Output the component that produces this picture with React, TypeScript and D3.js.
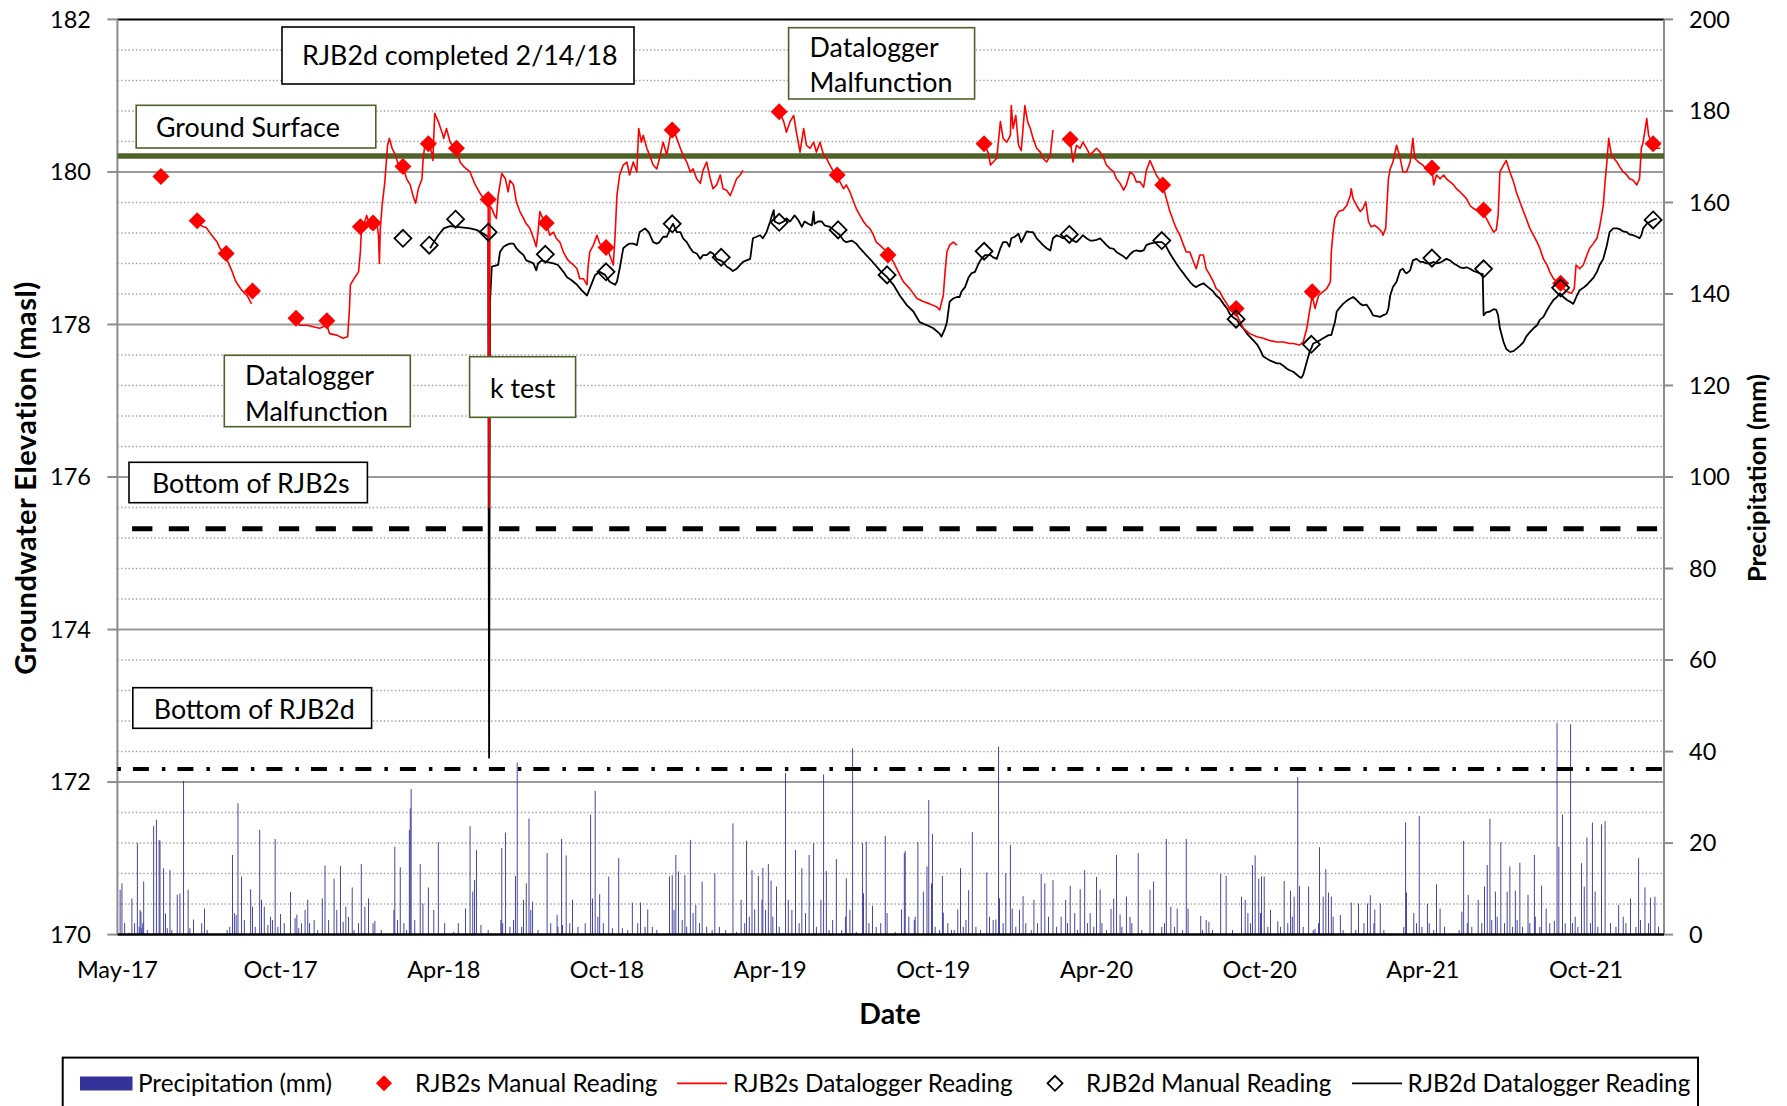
import React from "react";
import * as d3 from "d3";

// ---------------- DATA ----------------
const START = "2017-05-01";
const END = "2022-01-01";

const LEFT_TICKS = [170, 172, 174, 176, 178, 180, 182];
const RIGHT_TICKS = [0, 20, 40, 60, 80, 100, 120, 140, 160, 180, 200];
const X_TICK_DAYS = [0, 180, 360, 540, 720, 900, 1080, 1260, 1440, 1620];

const GROUND_SURFACE = 180.21;
const BOTTOM_RJB2S = 175.32;
const BOTTOM_RJB2D = 172.17;

// manual readings (date, masl)
const RJB2S_MANUAL: [string, number][] = [
  ["2017-06-18", 179.94], ["2017-07-28", 179.36], ["2017-08-29", 178.93], ["2017-09-27", 178.44],
  ["2017-11-14", 178.08], ["2017-12-18", 178.05], ["2018-01-24", 179.28], ["2018-02-07", 179.33],
  ["2018-03-12", 180.07], ["2018-04-09", 180.37], ["2018-05-10", 180.31], ["2018-06-14", 179.64],
  ["2018-08-17", 179.33], ["2018-10-22", 179.01], ["2019-01-03", 180.55], ["2019-05-01", 180.79],
  ["2019-07-04", 179.96], ["2019-08-29", 178.91], ["2019-12-13", 180.37], ["2020-03-17", 180.43],
  ["2020-06-27", 179.83], ["2020-09-16", 178.21], ["2020-12-09", 178.43], ["2021-04-20", 180.05],
  ["2021-06-16", 179.5], ["2021-09-09", 178.54], ["2021-12-20", 180.37],
];

const RJB2D_MANUAL: [string, number][] = [
  ["2018-03-12", 179.13], ["2018-04-10", 179.04], ["2018-05-09", 179.38], ["2018-06-14", 179.21],
  ["2018-08-16", 178.92], ["2018-10-22", 178.69], ["2019-01-03", 179.32], ["2019-02-26", 178.88],
  ["2019-05-01", 179.34], ["2019-07-05", 179.24], ["2019-08-28", 178.65], ["2019-12-13", 178.96],
  ["2020-03-16", 179.18], ["2020-06-26", 179.1], ["2020-09-16", 178.07], ["2020-12-08", 177.74],
  ["2021-04-20", 178.87], ["2021-06-16", 178.73], ["2021-09-09", 178.48], ["2021-12-20", 179.37],
];

// datalogger records: [days since START, masl]
const RJB2S_LOGGER_1: [number, number][] = [
  [89, 179.32], [95, 179.28], [98, 179.27], [104, 179.17], [110, 179.08], [113, 179.0], [119, 178.91],
  [122, 178.82], [126, 178.71], [130, 178.58], [133, 178.52], [137, 178.45], [143, 178.38], [148, 178.27],
];
const RJB2S_LOGGER_2: [number, number][] = [
  [196, 178.09], [201, 177.99], [209, 177.99], [216, 177.97], [223, 177.95], [231, 177.99], [234, 177.88],
  [242, 177.86], [249, 177.82], [254, 177.84], [256, 178.21], [257, 178.52], [262, 178.62], [266, 178.69],
  [268, 178.95], [269, 179.21], [271, 179.28], [275, 179.43], [279, 179.26], [282, 179.37], [286, 179.35],
  [288, 179.17], [289, 178.8], [290, 179.26], [292, 179.56], [295, 179.87], [298, 180.35], [300, 180.44],
  [303, 180.31], [306, 180.24], [310, 180.09], [315, 180.07], [319, 179.91], [323, 179.83], [326, 179.69],
  [329, 179.59], [332, 179.78], [336, 179.91], [337, 180.13], [339, 180.35], [343, 180.39], [347, 180.24],
  [348, 180.15], [350, 180.77], [354, 180.66], [358, 180.52], [360, 180.44], [363, 180.57], [367, 180.39],
  [374, 180.28], [378, 180.13], [382, 180.07], [389, 180.0], [394, 179.85], [400, 179.72], [405, 179.63],
  [409, 179.56], [410, 175.6], [411, 179.55], [413, 179.52], [416, 179.43], [418, 179.39], [420, 179.69],
  [424, 179.98], [428, 179.91], [431, 179.74], [433, 179.89], [437, 179.83], [440, 179.61], [444, 179.48],
  [448, 179.39], [451, 179.32], [455, 179.26], [459, 179.13], [462, 179.02], [464, 179.21], [466, 179.48],
  [470, 179.37], [473, 179.32], [477, 179.17], [481, 179.21], [484, 179.13], [488, 179.08], [492, 178.95],
  [496, 178.86], [499, 178.82], [503, 178.78], [507, 178.73], [510, 178.6], [514, 178.6], [518, 178.52],
  [519, 178.73], [521, 178.95], [525, 179.04], [529, 179.17], [532, 179.06], [536, 179.04], [540, 179.0],
  [543, 178.91], [547, 178.78], [549, 179.17], [551, 179.69], [554, 179.96], [558, 180.09], [562, 180.13],
  [565, 179.96], [569, 180.13], [573, 180.0], [575, 180.57], [578, 180.39], [580, 180.48], [584, 180.31],
  [587, 180.22], [591, 180.09], [595, 180.04], [598, 180.18], [602, 180.39], [606, 180.22], [610, 180.48],
  [613, 180.57], [617, 180.44], [621, 180.31], [624, 180.22], [628, 180.13], [632, 180.0], [635, 180.04],
  [639, 179.91], [643, 179.85], [646, 180.02], [650, 180.13], [654, 179.91], [657, 179.78], [661, 179.83],
  [665, 179.96], [668, 179.78], [672, 179.76], [676, 179.69], [679, 179.78], [683, 179.91], [687, 179.96],
  [690, 180.02],
];
const RJB2S_LOGGER_3: [number, number][] = [
  [730, 180.79], [735, 180.66], [738, 180.52], [742, 180.66], [746, 180.74], [749, 180.52], [753, 180.26],
  [757, 180.57], [760, 180.35], [764, 180.31], [768, 180.39], [771, 180.26], [775, 180.39], [779, 180.22],
  [782, 180.18], [786, 180.09], [790, 180.0], [793, 179.96], [797, 179.87], [801, 179.78], [804, 179.83],
  [808, 179.74], [812, 179.61], [815, 179.52], [819, 179.43], [823, 179.35], [826, 179.3], [830, 179.26],
  [834, 179.17], [837, 179.08], [841, 179.04], [849, 178.95], [856, 178.82], [863, 178.65], [867, 178.56],
  [874, 178.47], [882, 178.34], [889, 178.3], [896, 178.27], [904, 178.23], [907, 178.19], [911, 178.38],
  [913, 178.69], [915, 178.95], [918, 179.04], [922, 179.08], [926, 179.04],
];
const RJB2S_LOGGER_4: [number, number][] = [
  [956, 180.37], [961, 180.24], [963, 180.09], [966, 180.13], [970, 180.18], [974, 180.66], [977, 180.44],
  [981, 180.39], [985, 180.48], [986, 180.87], [988, 180.57], [991, 180.74], [994, 180.35], [997, 180.28],
  [1001, 180.87], [1004, 180.66], [1007, 180.57], [1010, 180.44], [1014, 180.31], [1018, 180.26],
  [1021, 180.18], [1025, 180.13], [1029, 180.22], [1032, 180.55],
];
const RJB2S_LOGGER_5: [number, number][] = [
  [1051, 180.43], [1054, 180.13], [1058, 180.35], [1062, 180.31], [1065, 180.39], [1069, 180.31],
  [1073, 180.22], [1076, 180.26], [1080, 180.31], [1084, 180.26], [1088, 180.18], [1091, 180.09],
  [1095, 180.04], [1099, 180.0], [1102, 179.91], [1106, 179.85], [1110, 179.76], [1113, 179.83],
  [1117, 180.0], [1121, 179.96], [1124, 179.87], [1128, 179.87], [1132, 179.8], [1135, 180.02],
  [1139, 180.15], [1143, 180.04], [1146, 179.96], [1153, 179.83], [1157, 179.65], [1161, 179.48],
  [1165, 179.35], [1168, 179.26], [1172, 179.17], [1176, 179.04], [1179, 178.95], [1183, 178.95],
  [1187, 178.82], [1190, 178.73], [1194, 178.91], [1198, 178.91], [1201, 178.73], [1205, 178.65],
  [1209, 178.56], [1212, 178.47], [1216, 178.43], [1220, 178.34], [1227, 178.21], [1235, 178.12],
  [1242, 177.95], [1249, 177.88], [1257, 177.84], [1264, 177.82], [1271, 177.79], [1279, 177.77],
  [1286, 177.77], [1293, 177.75], [1297, 177.75], [1304, 177.73], [1308, 177.77], [1312, 177.95],
  [1315, 178.17], [1318, 178.38], [1321, 178.21], [1325, 178.38], [1330, 178.43], [1334, 178.47],
  [1338, 178.56], [1339, 178.95], [1341, 179.21], [1343, 179.39], [1347, 179.48], [1352, 179.5],
  [1356, 179.56], [1360, 179.69], [1361, 179.78], [1363, 179.65], [1367, 179.56], [1371, 179.48],
  [1374, 179.52], [1377, 179.61], [1380, 179.35], [1383, 179.28], [1387, 179.3], [1391, 179.26],
  [1395, 179.21], [1396, 179.17], [1399, 179.26], [1402, 179.91], [1404, 180.04], [1407, 180.13],
  [1411, 180.35], [1415, 180.18], [1418, 180.0], [1422, 180.0], [1426, 180.13], [1429, 180.44],
  [1431, 180.18], [1435, 180.13], [1440, 180.09], [1446, 180.0], [1450, 180.05], [1452, 179.83],
  [1455, 179.96], [1459, 179.91], [1463, 179.96], [1466, 179.91], [1470, 179.87], [1474, 179.83],
  [1477, 179.78], [1481, 179.74], [1485, 179.69], [1488, 179.65], [1492, 179.56], [1496, 179.52],
  [1499, 179.5], [1503, 179.48], [1507, 179.45], [1510, 179.39], [1514, 179.3], [1518, 179.21],
  [1521, 179.24], [1523, 179.43], [1525, 180.0], [1529, 180.09], [1532, 180.15], [1536, 180.0],
  [1540, 179.87], [1543, 179.74], [1547, 179.61], [1551, 179.48], [1554, 179.39], [1558, 179.26],
  [1562, 179.17], [1566, 179.08], [1569, 179.0], [1573, 178.86], [1577, 178.78], [1580, 178.69],
  [1584, 178.6], [1588, 178.56], [1592, 178.54], [1595, 178.47], [1599, 178.43], [1604, 178.41],
  [1607, 178.47], [1609, 178.78], [1613, 178.73], [1617, 178.78], [1621, 178.91], [1624, 179.0],
  [1628, 179.06], [1632, 179.13], [1635, 179.28], [1639, 179.56], [1641, 179.87], [1643, 180.13],
  [1645, 180.44], [1648, 180.22], [1654, 180.13], [1657, 180.07], [1661, 180.0], [1665, 179.96],
  [1668, 179.91], [1672, 179.89], [1676, 179.83], [1679, 179.91], [1681, 180.31], [1683, 180.39],
  [1687, 180.7], [1689, 180.48], [1692, 180.39], [1694, 180.37], [1698, 180.31], [1702, 180.31],
];
const RJB2S_LOGGER_SEGMENTS = [RJB2S_LOGGER_1, RJB2S_LOGGER_2, RJB2S_LOGGER_3, RJB2S_LOGGER_4, RJB2S_LOGGER_5];

const RJB2D_LOGGER: [number, number][] = [
  [345, 179.0], [348, 179.06], [354, 179.17], [360, 179.26], [367, 179.29], [374, 179.28], [382, 179.27],
  [389, 179.26], [396, 179.24], [404, 179.19], [409, 179.15], [410, 172.32], [411, 178.3], [413, 178.76],
  [420, 178.78], [422, 178.95], [426, 179.02], [429, 179.04], [433, 179.06], [437, 179.06], [440, 179.0],
  [444, 178.95], [448, 178.91], [451, 178.84], [455, 178.82], [459, 178.8], [462, 178.71], [464, 178.8],
  [468, 178.84], [473, 178.82], [481, 178.8], [486, 178.78], [492, 178.69], [496, 178.62], [501, 178.58],
  [507, 178.52], [512, 178.45], [518, 178.38], [521, 178.47], [527, 178.65], [532, 178.69], [538, 178.65],
  [543, 178.56], [549, 178.52], [551, 178.56], [554, 178.73], [558, 179.0], [562, 179.04], [565, 179.06],
  [569, 179.06], [573, 179.04], [576, 179.21], [582, 179.26], [586, 179.21], [591, 179.08], [595, 179.06],
  [598, 179.08], [602, 179.15], [606, 179.15], [610, 179.26], [613, 179.32], [617, 179.21], [621, 179.21],
  [624, 179.13], [628, 179.08], [632, 179.0], [635, 178.95], [639, 178.93], [643, 178.86], [646, 178.91],
  [650, 178.91], [654, 178.95], [657, 178.93], [661, 178.86], [665, 178.84], [668, 178.82], [672, 178.76],
  [676, 178.73], [679, 178.7], [683, 178.73], [687, 178.78], [690, 178.82], [694, 178.84], [698, 178.86],
  [701, 179.13], [705, 179.15], [709, 179.17], [712, 179.13], [716, 179.21], [720, 179.35], [722, 179.43],
  [724, 179.5], [725, 179.35], [730, 179.32], [735, 179.35], [738, 179.39], [742, 179.35], [747, 179.43],
  [751, 179.37], [755, 179.28], [758, 179.35], [762, 179.32], [766, 179.3], [768, 179.48], [769, 179.32],
  [773, 179.35], [777, 179.35], [780, 179.3], [786, 179.28], [793, 179.21], [797, 179.17], [801, 179.1],
  [804, 179.08], [810, 179.1], [815, 179.06], [819, 179.0], [823, 178.95], [826, 178.91], [830, 178.86],
  [836, 178.78], [841, 178.71], [849, 178.62], [856, 178.52], [863, 178.38], [871, 178.25], [878, 178.17],
  [885, 178.03], [893, 177.99], [900, 177.95], [907, 177.88], [909, 177.84], [913, 177.95], [915, 178.03],
  [918, 178.3], [922, 178.34], [926, 178.36], [929, 178.36], [931, 178.43], [935, 178.49], [939, 178.62],
  [942, 178.67], [946, 178.69], [950, 178.8], [953, 178.86], [957, 178.91], [963, 178.91], [966, 178.88],
  [970, 178.86], [974, 179.0], [977, 179.08], [981, 179.08], [984, 179.02], [986, 179.13], [990, 179.15],
  [994, 179.19], [997, 179.08], [1001, 179.17], [1003, 179.22], [1007, 179.21], [1010, 179.21],
  [1014, 179.13], [1018, 179.08], [1021, 179.04], [1025, 179.0], [1029, 178.97], [1032, 179.13],
  [1036, 179.17], [1040, 179.15], [1043, 179.13], [1047, 179.17], [1051, 179.13], [1054, 179.1],
  [1058, 179.08], [1062, 179.13], [1065, 179.17], [1069, 179.13], [1073, 179.1], [1076, 179.1],
  [1080, 179.11], [1084, 179.13], [1088, 179.08], [1091, 179.04], [1095, 179.0], [1099, 178.99],
  [1102, 178.95], [1106, 178.92], [1110, 178.89], [1113, 178.86], [1117, 178.92], [1121, 178.96],
  [1124, 178.97], [1128, 178.96], [1132, 178.97], [1135, 179.04], [1139, 179.06], [1143, 179.07],
  [1146, 179.08], [1152, 179.08], [1156, 179.04], [1161, 178.93], [1168, 178.8], [1172, 178.73],
  [1176, 178.67], [1179, 178.62], [1183, 178.56], [1187, 178.51], [1190, 178.49], [1194, 178.52],
  [1198, 178.54], [1201, 178.51], [1205, 178.47], [1209, 178.43], [1212, 178.38], [1216, 178.34],
  [1220, 178.27], [1224, 178.21], [1227, 178.14], [1231, 178.09], [1235, 178.06], [1238, 178.0],
  [1242, 177.95], [1246, 177.88], [1249, 177.84], [1253, 177.79], [1257, 177.74], [1260, 177.68],
  [1264, 177.58], [1268, 177.55], [1271, 177.53], [1275, 177.51], [1279, 177.49], [1282, 177.49],
  [1286, 177.46], [1290, 177.42], [1293, 177.4], [1297, 177.38], [1301, 177.34], [1304, 177.31],
  [1306, 177.3], [1308, 177.34], [1312, 177.51], [1315, 177.64], [1317, 177.69], [1319, 177.75],
  [1323, 177.77], [1326, 177.79], [1330, 177.82], [1336, 177.86], [1339, 177.86], [1341, 177.95],
  [1343, 178.03], [1345, 178.17], [1349, 178.23], [1352, 178.27], [1356, 178.31], [1360, 178.34],
  [1363, 178.36], [1367, 178.32], [1371, 178.27], [1374, 178.25], [1378, 178.26], [1382, 178.19],
  [1385, 178.12], [1389, 178.11], [1393, 178.1], [1396, 178.12], [1400, 178.14], [1402, 178.21],
  [1404, 178.38], [1407, 178.49], [1411, 178.56], [1415, 178.71], [1418, 178.73], [1420, 178.69],
  [1422, 178.67], [1426, 178.71], [1429, 178.84], [1433, 178.86], [1437, 178.82], [1440, 178.82],
  [1444, 178.8], [1448, 178.8], [1452, 178.82], [1455, 178.8], [1459, 178.81], [1463, 178.84],
  [1466, 178.86], [1470, 178.84], [1474, 178.8], [1477, 178.78], [1481, 178.75], [1485, 178.74],
  [1488, 178.75], [1492, 178.73], [1496, 178.7], [1499, 178.69], [1503, 178.67], [1506, 178.66],
  [1507, 178.12], [1510, 178.16], [1514, 178.17], [1518, 178.2], [1521, 178.19], [1523, 178.12],
  [1525, 177.95], [1529, 177.77], [1532, 177.68], [1536, 177.64], [1540, 177.65], [1543, 177.68],
  [1547, 177.72], [1551, 177.77], [1554, 177.84], [1558, 177.9], [1562, 177.95], [1566, 177.99],
  [1569, 178.06], [1573, 178.1], [1577, 178.19], [1580, 178.25], [1584, 178.32], [1588, 178.36],
  [1591, 178.41], [1595, 178.36], [1599, 178.32], [1602, 178.3], [1606, 178.27], [1610, 178.38],
  [1613, 178.45], [1617, 178.48], [1621, 178.52], [1624, 178.56], [1628, 178.61], [1632, 178.69],
  [1635, 178.78], [1639, 178.86], [1643, 179.04], [1646, 179.21], [1650, 179.26], [1654, 179.26],
  [1657, 179.25], [1661, 179.22], [1665, 179.21], [1668, 179.18], [1672, 179.17], [1676, 179.15],
  [1679, 179.13], [1681, 179.17], [1683, 179.26], [1687, 179.32], [1691, 179.35], [1694, 179.37],
  [1698, 179.39],
];

// daily precipitation: [days since START, mm]
const PRECIP: [number, number][] = [
  [3, 9.8], [5, 11.2], [8, 2.5], [13, 0.4], [16, 7.9], [19, 2.5], [22, 20.0], [24, 1.7], [25, 5.4], [26, 5.0],
  [27, 1.4], [28, 2.5], [29, 11.6], [33, 1.0], [40, 23.7], [43, 25.1], [46, 20.7], [47, 20.5], [51, 14.5],
  [53, 4.6], [55, 1.4], [58, 14.1], [60, 1.0], [66, 8.7], [69, 9.0], [73, 33.6], [78, 9.8], [80, 1.4],
  [84, 3.3], [93, 2.5], [96, 5.7], [99, 1.0], [121, 1.0], [124, 1.7], [127, 17.4], [129, 4.7], [131, 4.3],
  [133, 28.7], [137, 12.7], [140, 3.2], [147, 9.9], [149, 6.1], [152, 1.7], [157, 22.9], [159, 7.6],
  [162, 6.1], [166, 2.1], [169, 3.9], [171, 3.2], [174, 20.9], [177, 1.7], [180, 4.5], [184, 2.5],
  [191, 9.3], [196, 3.6], [198, 4.4], [200, 1.4], [203, 2.5], [207, 5.4], [210, 7.6], [212, 2.5],
  [217, 3.2], [221, 1.0], [226, 7.9], [229, 15.1], [233, 3.2], [239, 12.2], [242, 5.4], [246, 15.0],
  [249, 2.8], [252, 6.1], [255, 3.9], [259, 10.3], [261, 1.0], [266, 2.5], [269, 15.4], [273, 6.1],
  [277, 7.9], [282, 2.5], [284, 3.0], [291, 1.0], [305, 5.4], [306, 19.2], [309, 3.2], [312, 14.7],
  [316, 2.5], [319, 1.0], [322, 22.9], [323, 27.6], [324, 31.8], [328, 3.2], [334, 15.4], [337, 6.8],
  [343, 10.3], [349, 5.4], [354, 20.2], [361, 2.5], [371, 0.6], [376, 2.5], [384, 5.7], [389, 23.7],
  [392, 9.4], [394, 11.9], [396, 18.5], [401, 2.1], [409, 1.0], [423, 3.2], [424, 18.9], [425, 2.5],
  [428, 22.3], [433, 1.7], [437, 3.2], [439, 12.8], [441, 37.6], [446, 1.7], [448, 7.6], [451, 11.2],
  [454, 25.4], [456, 5.4], [458, 7.2], [464, 1.0], [474, 17.8], [478, 2.5], [485, 4.3], [486, 1.7],
  [490, 20.9], [491, 2.1], [495, 17.3], [499, 2.5], [502, 7.6], [508, 1.7], [516, 2.5], [522, 26.2],
  [524, 7.9], [527, 31.4], [530, 3.9], [532, 8.8], [536, 2.5], [542, 12.7], [546, 1.4], [553, 16.7],
  [557, 1.4], [563, 1.0], [568, 7.0], [574, 2.5], [577, 7.0], [582, 1.7], [585, 5.5], [590, 1.7],
  [595, 1.0], [606, 0.3], [609, 12.7], [612, 13.0], [614, 5.4], [616, 17.4], [619, 13.8], [623, 3.2],
  [626, 13.0], [628, 1.7], [632, 20.7], [635, 4.7], [638, 6.5], [642, 2.5], [645, 11.6], [650, 1.7],
  [656, 1.0], [659, 13.4], [664, 1.7], [671, 1.0], [679, 24.3], [683, 0.6], [688, 7.6], [692, 2.5],
  [694, 20.5], [697, 3.9], [700, 14.1], [703, 5.5], [707, 12.8], [711, 7.6], [712, 14.6], [715, 5.4],
  [718, 15.4], [721, 11.8], [723, 3.9], [727, 10.5], [730, 1.7], [734, 0.3], [737, 35.3], [740, 7.6],
  [744, 5.4], [748, 18.5], [752, 2.5], [755, 14.5], [759, 4.7], [763, 17.4], [768, 20.0], [771, 1.7],
  [776, 7.6], [779, 35.0], [782, 13.9], [785, 1.0], [789, 3.2], [793, 16.5], [799, 1.0], [803, 3.9],
  [804, 12.3], [808, 5.4], [811, 40.7], [815, 0.6], [822, 20.0], [823, 9.0], [826, 20.3], [829, 2.5],
  [833, 6.3], [837, 1.7], [842, 2.5], [847, 21.6], [849, 4.7], [858, 0.6], [865, 5.5], [868, 17.8],
  [869, 18.3], [873, 3.9], [879, 3.2], [880, 3.9], [883, 20.2], [889, 9.4], [893, 14.9], [895, 29.4],
  [898, 11.2], [899, 22.0], [902, 1.7], [907, 1.0], [910, 12.8], [911, 4.8], [916, 2.5], [920, 1.0],
  [923, 1.0], [927, 5.5], [930, 14.5], [933, 1.7], [936, 3.2], [939, 9.7], [943, 22.4], [947, 1.7],
  [952, 1.0], [959, 13.6], [962, 3.9], [966, 3.2], [969, 3.3], [972, 41.1], [973, 7.9], [977, 2.5],
  [980, 13.4], [985, 19.6], [987, 5.7], [991, 1.7], [995, 5.4], [999, 8.4], [1002, 2.5], [1008, 1.0],
  [1011, 7.6], [1015, 2.5], [1019, 13.3], [1023, 11.2], [1027, 3.9], [1032, 11.9], [1036, 1.7],
  [1041, 3.9], [1046, 7.6], [1048, 2.5], [1051, 10.7], [1056, 4.7], [1059, 1.0], [1062, 9.9],
  [1067, 14.1], [1070, 2.5], [1073, 4.7], [1077, 1.7], [1080, 12.6], [1084, 9.8], [1086, 2.5],
  [1091, 1.0], [1096, 5.6], [1099, 7.9], [1102, 17.4], [1106, 4.4], [1108, 1.7], [1113, 8.3],
  [1117, 3.9], [1119, 2.5], [1126, 17.8], [1130, 1.0], [1139, 9.8], [1143, 11.6], [1152, 1.7],
  [1155, 2.5], [1157, 20.9], [1162, 6.1], [1166, 1.7], [1169, 5.7], [1175, 1.0], [1179, 20.9],
  [1181, 5.7], [1195, 4.1], [1197, 1.0], [1201, 3.2], [1204, 2.8], [1208, 1.0], [1217, 13.3],
  [1223, 12.8], [1230, 1.0], [1240, 8.3], [1244, 7.6], [1247, 4.7], [1250, 2.5], [1252, 15.2],
  [1255, 17.3], [1259, 12.2], [1261, 4.7], [1262, 12.7], [1265, 12.7], [1269, 1.7], [1272, 5.4],
  [1280, 2.9], [1283, 1.7], [1287, 11.7], [1291, 2.5], [1294, 9.6], [1296, 3.9], [1298, 8.3],
  [1302, 34.4], [1304, 10.6], [1308, 1.7], [1314, 10.5], [1319, 1.0], [1321, 1.3], [1325, 2.5],
  [1326, 19.1], [1330, 8.3], [1333, 14.3], [1336, 9.2], [1339, 8.3], [1341, 3.9], [1349, 4.3],
  [1352, 1.0], [1361, 7.0], [1366, 1.0], [1369, 6.8], [1375, 2.5], [1379, 6.8], [1382, 8.6],
  [1386, 2.5], [1387, 5.5], [1393, 6.8], [1397, 1.0], [1419, 1.7], [1421, 24.5], [1422, 9.2],
  [1430, 4.7], [1433, 2.5], [1436, 25.9], [1439, 1.7], [1445, 6.7], [1447, 2.5], [1452, 1.0],
  [1455, 11.0], [1459, 5.7], [1464, 1.7], [1480, 1.0], [1483, 5.0], [1485, 20.5], [1489, 2.5],
  [1490, 8.7], [1494, 1.7], [1501, 7.6], [1505, 2.5], [1508, 10.5], [1511, 15.2], [1514, 25.3],
  [1516, 3.2], [1520, 9.4], [1522, 3.9], [1526, 20.2], [1530, 2.5], [1533, 9.4], [1536, 14.9],
  [1539, 1.7], [1542, 9.6], [1544, 3.2], [1547, 15.7], [1550, 1.7], [1556, 8.7], [1558, 2.5],
  [1563, 17.4], [1564, 3.9], [1569, 1.7], [1571, 10.7], [1576, 5.7], [1580, 2.5], [1585, 3.0],
  [1588, 46.3], [1590, 19.2], [1594, 26.2], [1597, 2.5], [1603, 46.0], [1605, 2.5], [1608, 3.9],
  [1611, 1.7], [1615, 15.6], [1618, 10.5], [1621, 21.2], [1625, 2.5], [1627, 24.5], [1630, 9.4],
  [1633, 1.7], [1637, 24.1], [1641, 24.8], [1647, 2.5], [1653, 1.7], [1656, 6.5], [1661, 3.9],
  [1664, 2.5], [1669, 7.9], [1675, 1.7], [1678, 16.7], [1680, 3.2], [1685, 10.3], [1689, 2.5],
  [1691, 8.1], [1696, 8.3], [1700, 1.7],
];

const LEGEND_LABELS = [
  "Precipitation (mm)",
  "RJB2s Manual Reading",
  "RJB2s Datalogger Reading",
  "RJB2d Manual Reading",
  "RJB2d Datalogger Reading",
];

// ---------------- LAYOUT ----------------
const W = 1787;
const H = 1106;
const X0 = 117.4;
const X1 = 1664;
const Y0 = 19.4;
const Y1 = 934.6;
const FONT = "Lato, 'Liberation Sans', sans-serif";
const FS_TICK = 23.5;
const FS_LEGEND = 24.3;
const FS_NOTE = 26.8;
const OLIVE = "#4f6228";
const PRECIP_COLOR = "#333399";

const ANNOTATIONS = [
  { x: 282, y: 27, w: 352, h: 57, stroke: "#000", lines: ["RJB2d completed 2/14/18"], tx: 302, anchor: "start", ty: [55.5] },
  { x: 788.6, y: 27.7, w: 186, h: 71.3, stroke: OLIVE, lines: ["Datalogger", "Malfunction"], tx: 809.6, anchor: "start", ty: [47.2, 82.8] },
  { x: 136.2, y: 105.3, w: 239.6, h: 42.7, stroke: OLIVE, lines: ["Ground Surface"], tx: 156, anchor: "start", ty: [127.5] },
  { x: 224.3, y: 355.3, w: 186, h: 71.4, stroke: OLIVE, lines: ["Datalogger", "Malfunction"], tx: 245, anchor: "start", ty: [375.3, 411.3] },
  { x: 469.6, y: 356.7, w: 106, h: 60.6, stroke: OLIVE, lines: ["k test"], tx: 522.6, anchor: "middle", ty: [388.8] },
  { x: 129, y: 462.3, w: 238.4, h: 40.4, stroke: "#000", lines: ["Bottom of RJB2s"], tx: 152, anchor: "start", ty: [483.8] },
  { x: 132.8, y: 687.7, w: 238.8, h: 40.6, stroke: "#000", lines: ["Bottom of RJB2d"], tx: 153.8, anchor: "start", ty: [709.2] },
];

const parseDate = d3.utcParse("%Y-%m-%d");
const startDate = parseDate(START) as Date;
const endDate = parseDate(END) as Date;
const dayToDate = (d: number) => d3.utcDay.offset(startDate, d);

const diamond = (r: number) => `M0,${-r}L${r},0L0,${r}L${-r},0Z`;

export default function App() {
  const x = d3.scaleUtc().domain([startDate, endDate]).range([X0, X1]);
  const y = d3.scaleLinear().domain([170, 182]).range([Y1, Y0]);
  const yR = d3.scaleLinear().domain([0, 200]).range([Y1, Y0]);
  const fmt = d3.utcFormat("%b-%y");

  const line = d3
    .line<[number, number]>()
    .x((d) => x(dayToDate(d[0])))
    .y((d) => y(d[1]));

  const minor = d3.range(0, 31).filter((i) => i % 5 !== 0).map((i) => 170 + i * 0.4);
  const dayW = x(dayToDate(1)) - x(dayToDate(0));

  return (
    <div style={{ position: "absolute", left: 0, top: 0 }}>
      <svg width={W} height={H} style={{ display: "block", background: "#fff" }} fontFamily={FONT}>
        <rect x={0} y={0} width={W} height={H} fill="#fff" />
        {/* minor gridlines */}
        {minor.map((v) => (
          <line key={"mn" + v} x1={X0} x2={X1} y1={y(v)} y2={y(v)} stroke="#a6a6a6" strokeWidth={1.5} strokeDasharray="1.5,2.2" />
        ))}
        {/* major gridlines */}
        {LEFT_TICKS.slice(1, -1).map((v) => (
          <line key={"mj" + v} x1={X0} x2={X1} y1={y(v)} y2={y(v)} stroke="#9a9a9a" strokeWidth={2} />
        ))}
        {/* precipitation bars */}
        {PRECIP.map(([d, mm], i) => (
          <rect
            key={"p" + i}
            x={x(dayToDate(d)) - dayW / 2}
            y={yR(mm)}
            width={dayW}
            height={yR(0) - yR(mm)}
            fill={PRECIP_COLOR}
          />
        ))}
        {/* axes */}
        <line x1={X0} x2={X1} y1={Y0} y2={Y0} stroke="#000" strokeWidth={2} />
        <line x1={X0} x2={X0} y1={Y0} y2={Y1} stroke="#8c8c8c" strokeWidth={2} />
        <line x1={X1} x2={X1} y1={Y0} y2={Y1} stroke="#8c8c8c" strokeWidth={2} />
        <line x1={X0} x2={X1} y1={Y1} y2={Y1} stroke="#000" strokeWidth={2.5} />
        {LEFT_TICKS.map((v) => (
          <g key={"lt" + v}>
            <line x1={X0 - 10} x2={X0} y1={y(v)} y2={y(v)} stroke="#8c8c8c" strokeWidth={2} />
            <text x={91} y={y(v)} dy="0.35em" textAnchor="end" fontSize={FS_TICK} fill="#000">
              {v}
            </text>
          </g>
        ))}
        {RIGHT_TICKS.map((v) => (
          <g key={"rt" + v}>
            <line x1={X1} x2={X1 + 9} y1={yR(v)} y2={yR(v)} stroke="#8c8c8c" strokeWidth={2} />
            <text x={1689} y={yR(v)} dy="0.35em" textAnchor="start" fontSize={FS_TICK} fill="#000">
              {v}
            </text>
          </g>
        ))}
        {X_TICK_DAYS.map((d) => (
          <text key={"xt" + d} x={x(dayToDate(d))} y={969.5} dy="0.35em" textAnchor="middle" fontSize={FS_TICK} fill="#000">
            {fmt(dayToDate(d))}
          </text>
        ))}
        {/* reference lines */}
        <line x1={X0} x2={X1} y1={y(GROUND_SURFACE)} y2={y(GROUND_SURFACE)} stroke={OLIVE} strokeWidth={5.5} />
        <line
          x1={X0}
          x2={X1}
          y1={y(BOTTOM_RJB2S)}
          y2={y(BOTTOM_RJB2S)}
          stroke="#000"
          strokeWidth={5}
          strokeDasharray="20.3,16.4"
          strokeDashoffset={22}
        />
        <line
          x1={X0}
          x2={X1}
          y1={y(BOTTOM_RJB2D)}
          y2={y(BOTTOM_RJB2D)}
          stroke="#000"
          strokeWidth={4}
          strokeDasharray="3.5,12,16,13"
        />
        {/* datalogger lines */}
        <path d={line(RJB2D_LOGGER) || ""} fill="none" stroke="#000" strokeWidth={1.8} strokeLinejoin="round" />
        {RJB2S_LOGGER_SEGMENTS.map((seg, i) => (
          <path key={"rs" + i} d={line(seg) || ""} fill="none" stroke="#ff0000" strokeWidth={1.6} strokeLinejoin="round" />
        ))}
        {/* manual readings */}
        {RJB2S_MANUAL.map(([ds, v], i) => (
          <path
            key={"m2s" + i}
            d={diamond(8.5)}
            transform={`translate(${x(parseDate(ds) as Date)},${y(v)})`}
            fill="#ff0000"
          />
        ))}
        {RJB2D_MANUAL.map(([ds, v], i) => (
          <path
            key={"m2d" + i}
            d={diamond(8.5)}
            transform={`translate(${x(parseDate(ds) as Date)},${y(v)})`}
            fill="none"
            stroke="#000"
            strokeWidth={1.8}
          />
        ))}
        {/* annotation boxes */}
        {ANNOTATIONS.map((a, i) => (
          <g key={"an" + i}>
            <rect x={a.x} y={a.y} width={a.w} height={a.h} fill="#fff" stroke={a.stroke} strokeWidth={1.6} />
            {a.lines.map((t, j) => (
              <text key={j} x={a.tx} y={a.ty[j]} dy="0.35em" textAnchor={a.anchor} fontSize={FS_NOTE} fill="#000">
                {t}
              </text>
            ))}
          </g>
        ))}
        {/* axis titles */}
        <text
          transform={`translate(26,478) rotate(-90)`}
          dy="0.35em"
          textAnchor="middle"
          fontSize={29}
          fontWeight="bold"
          letterSpacing={0.5}
          fill="#000"
        >
          Groundwater Elevation (masl)
        </text>
        <text
          transform={`translate(1757,478) rotate(-90)`}
          dy="0.35em"
          textAnchor="middle"
          fontSize={25.5}
          fontWeight="bold"
          fill="#000"
        >
          Precipitation (mm)
        </text>
        <text x={890} y={1014} dy="0.35em" textAnchor="middle" fontSize={28.5} fontWeight="bold" fill="#000">
          Date
        </text>
        {/* legend */}
        <rect x={62.7} y={1057.6} width={1635.3} height={70} fill="#fff" stroke="#000" strokeWidth={2} />
        <rect x={80} y={1076.5} width={52.5} height={14} fill={PRECIP_COLOR} />
        <text x={138} y={1083.3} dy="0.35em" fontSize={FS_LEGEND} fill="#000">{LEGEND_LABELS[0]}</text>
        <path d={diamond(8)} transform="translate(384,1083.3)" fill="#ff0000" />
        <text x={415} y={1083.3} dy="0.35em" fontSize={FS_LEGEND} fill="#000">{LEGEND_LABELS[1]}</text>
        <line x1={677} x2={727} y1={1083.3} y2={1083.3} stroke="#ff0000" strokeWidth={1.8} />
        <text x={733} y={1083.3} dy="0.35em" fontSize={FS_LEGEND} fill="#000">{LEGEND_LABELS[2]}</text>
        <path d={diamond(7.5)} transform="translate(1055,1083.3)" fill="none" stroke="#000" strokeWidth={1.8} />
        <text x={1086} y={1083.3} dy="0.35em" fontSize={FS_LEGEND} fill="#000">{LEGEND_LABELS[3]}</text>
        <line x1={1352} x2={1402} y1={1083.3} y2={1083.3} stroke="#000" strokeWidth={1.8} />
        <text x={1407.5} y={1083.3} dy="0.35em" fontSize={FS_LEGEND} fill="#000">{LEGEND_LABELS[4]}</text>
      </svg>
    </div>
  );
}
